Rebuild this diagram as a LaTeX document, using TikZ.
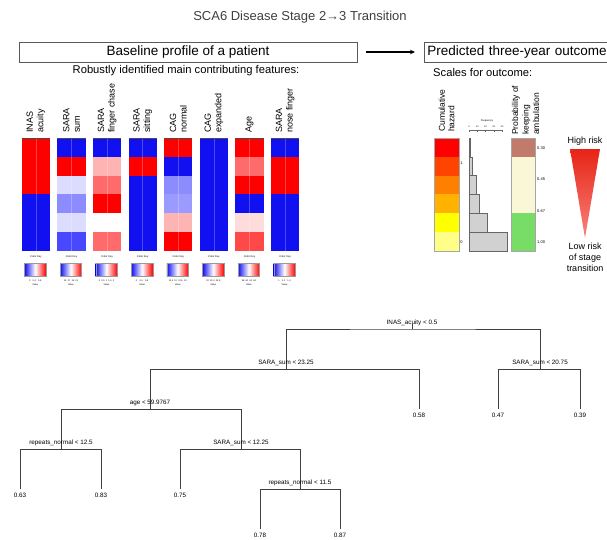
\documentclass[tikz,border=0pt]{standalone}
\usepackage{fontspec}
\setmainfont{Liberation Sans}
\usetikzlibrary{arrows.meta}

\definecolor{hmRed}{RGB}{255,0,0}
\definecolor{hmBlue}{RGB}{16,16,240}
\definecolor{hmBlueA}{RGB}{220,220,255}
\definecolor{hmBlueB}{RGB}{140,140,255}
\definecolor{hmBlueC}{RGB}{154,154,255}
\definecolor{hmBlueD}{RGB}{72,72,255}
\definecolor{hmRedA}{RGB}{255,220,220}
\definecolor{hmRedB}{RGB}{255,180,180}
\definecolor{hmRedC}{RGB}{255,106,106}
\definecolor{hmRedD}{RGB}{255,72,72}
\definecolor{hzA}{RGB}{255,0,0}
\definecolor{hzB}{RGB}{255,68,0}
\definecolor{hzC}{RGB}{255,127,0}
\definecolor{hzD}{RGB}{255,178,0}
\definecolor{hzE}{RGB}{255,255,0}
\definecolor{hzF}{RGB}{255,255,136}
\definecolor{probTop}{RGB}{194,122,107}
\definecolor{probMid}{RGB}{250,247,214}
\definecolor{probLow}{RGB}{120,221,102}
\definecolor{riskHigh}{RGB}{230,36,22}
\definecolor{riskLow}{RGB}{250,130,122}

\tikzset{
  panel/.style={draw=black!65, line width=0.8pt, inner sep=0pt, minimum height=20pt,
    font=\fontsize{13.5}{15}\selectfont},
  feat/.style={rotate=90, anchor=west, align=left, inner sep=0pt,
    font=\fontsize{9}{10.5}\selectfont},
  keytitle/.style={inner sep=0pt, font=\fontsize{2.6}{3}\selectfont},
  keytick/.style={inner sep=0pt, font=\fontsize{2.3}{3}\selectfont},
  axtick/.style={inner sep=0pt, font=\fontsize{4}{5}\selectfont},
  split/.style={anchor=south, inner sep=0pt, yshift=3pt, font=\fontsize{6.3}{7}\selectfont},
  leaf/.style={anchor=north, inner sep=0pt, yshift=-4pt, font=\fontsize{6.3}{7}\selectfont},
  branch/.style={draw=black!75, line width=0.9pt},
  flow/.style={-{Stealth[length=5pt,width=4.5pt]}, line width=1.2pt},
}

\begin{document}
\begin{tikzpicture}[x=1pt, y=-1pt]
\useasboundingbox (0,0) rectangle (607,539);

% title and the two header boxes
\node[text=black!75, inner sep=0pt, font=\fontsize{13}{15}\selectfont] (title) at (300,17)
  {SCA6 Disease Stage 2→3 Transition};
\node[panel, minimum width=338pt] (base) at (188,52) {Baseline profile of a patient};
\node[panel, anchor=west, text width=190pt, inner xsep=3pt, align=left] (pred) at (424,52)
  {Predicted three-year outcome};
\draw[flow] ([xshift=9pt]base.east) -- ([xshift=-9pt]pred.west);
\node[inner sep=0pt, font=\fontsize{11.2}{13}\selectfont] (robust) at (186,71)
  {Robustly identified main contributing features:};
\node[inner sep=0pt, anchor=west, font=\fontsize{11.2}{13}\selectfont] (scales) at (433,72)
  {Scales for outcome:};

% heatmap columns of the features
\foreach \col [count=\i from 0] in {
  {hmRed,hmRed,hmRed,hmBlue,hmBlue,hmBlue},
  {hmBlue,hmRed,hmBlueA,hmBlueB,hmBlueA,hmBlueD},
  {hmBlue,hmRedB,hmRedC,hmRed,white,hmRedC},
  {hmBlue,hmRed,hmBlue,hmBlue,hmBlue,hmBlue},
  {hmRed,hmBlue,hmBlueB,hmBlueC,hmRedB,hmRed},
  {hmBlue,hmBlue,hmBlue,hmBlue,hmBlue,hmBlue},
  {hmRed,hmRedC,hmRed,hmBlue,hmRedA,hmRedD},
  {hmBlue,hmRed,hmRed,hmBlue,hmBlue,hmBlue}} {
  \foreach \c [count=\j from 0] in \col
    \fill[\c] ({21.7+35.6*\i},{138+18.8*\j}) rectangle ++(28.3,18.8);
  \draw[white, opacity=0.25, line width=0.4pt] ({35.85+35.6*\i},138) -- ++(0,112.8);
  \draw[black!70, line width=0.8pt] ({21.7+35.6*\i},138) -- ++(28.3,0);
}
\node[feat] (f1) at (35.9,133) {INAS\\acuity};
\node[feat] (f2) at (71.5,133) {SARA\\sum};
\node[feat] (f3) at (107.1,133) {SARA\\finger chase};
\node[feat] (f4) at (142.7,133) {SARA\\sitting};
\node[feat] (f5) at (178.3,133) {CAG\\normal};
\node[feat] (f6) at (213.9,133) {CAG\\expanded};
\node[feat] (f7) at (249.5,133) {Age};
\node[feat] (f8) at (285.1,133) {SARA\\nose finger};

% color keys
\foreach \tk [count=\i from 0] in {
  {0\quad 0.4\quad 0.8}, {15\ \ 17\ \ 19\ \ 21}, {0\ \ 0.5\ \ 1\ \ 1.5\ \ 2},
  {0\quad 0.4\quad 0.8}, {11.5\ \ 12\ \ 12.5\ \ 13}, {22\ \ 22.4\ \ 22.8},
  {58\ \ 60\ \ 62\ \ 64}, {1\quad 1.2\quad 1.4}} {
  \node[keytitle] (kt\i) at ({35.9+35.6*\i},257) {Color Key};
  \shade[left color=hmBlue, right color=hmRed, middle color=white]
    ({24.5+35.6*\i},263) rectangle ++(21.5,13);
  \draw[black!40, line width=0.3pt] ({24.5+35.6*\i},263) rectangle ++(21.5,13);
  \node[keytick] (kv\i) at ({35.3+35.6*\i},280.5) {\tk};
  \node[keytick] (kn\i) at ({35.3+35.6*\i},285) {Value};
}

% outcome scales
\foreach \c [count=\j from 0] in {hzA,hzB,hzC,hzD,hzE,hzF}
  \fill[\c] (434,{138+18.8*\j}) rectangle ++(25,18.8);
\draw[black!35, line width=0.5pt] (434,138) rectangle (459,250.8);
\node[feat, font=\fontsize{8.5}{9.5}\selectfont] (hz) at (446.5,132) {Cumulative\\hazard};
\node[axtick] (hz1) at (461.5,163) {1};
\node[axtick] (hz0) at (461.5,242) {0};

\foreach \w [count=\j from 0] in {1.3,3.7,7,10,18,38}
  \draw[fill=black!18, draw=black!60, line width=0.5pt] (469,{138+18.8*\j}) rectangle ++(\w,18.8);
\node[keytitle] (freq) at (487,121) {Frequency};
\draw[black!60, line width=0.3pt] (469,130) -- (502,130);
\foreach \t [count=\k from 0] in {0,10,20,30,40} {
  \draw[black!60, line width=0.3pt] ({469+8.25*\k},130) -- ++(0,1.5);
  \node[keytick] (ft\k) at ({469+8.25*\k},126.5) {\t};
}

\fill[probTop] (511,138) rectangle (535,156.8);
\fill[probMid] (511,156.8) rectangle (535,213.2);
\fill[probLow] (511,213.2) rectangle (535,250.8);
\draw[black!35, line width=0.5pt] (511,138) rectangle (535,250.8);
\node[feat, font=\fontsize{8.5}{10.5}\selectfont] (prob) at (525.5,135)
  {Probability of\\keeping\\ambulation};
\node[axtick, anchor=west] (p30) at (537,148) {0.30};
\node[axtick, anchor=west] (p45) at (537,179) {0.45};
\node[axtick, anchor=west] (p67) at (537,211) {0.67};
\node[axtick, anchor=west] (p100) at (537,242) {1.00};

% risk wedge
\shade[top color=riskHigh, bottom color=riskLow] (570,149) -- (600,149) -- (585,238) -- cycle;
\node[inner sep=0pt, font=\fontsize{9}{11}\selectfont] (high) at (585,141) {High risk};
\node[inner sep=0pt, align=center, font=\fontsize{9}{11}\selectfont] (low) at (585,257)
  {Low risk\\of stage\\transition};

% regression tree
\coordinate (s1) at (412,329);
\coordinate (s2) at (286,369);
\coordinate (s3) at (540,369);
\coordinate (s4) at (150,409);
\coordinate (s5) at (61,449);
\coordinate (s6) at (241,449);
\coordinate (s7) at (300,489);
\coordinate (v58) at (419,409);
\coordinate (v47) at (498,409);
\coordinate (v39) at (580,409);
\coordinate (v63) at (20,489);
\coordinate (v83) at (101,489);
\coordinate (v75) at (180,489);
\coordinate (v78) at (260,529);
\coordinate (v87) at (340,529);
\draw[branch] (s1) -- ++(0,-5);
\foreach \p/\a/\b in {s1/s2/s3, s2/s4/v58, s3/v47/v39, s4/s5/s6, s5/v63/v83, s6/v75/s7, s7/v78/v87}
  \draw[branch] (\a) |- (\p) -| (\b);
\node[split] (n1) at (s1) {INAS\_acuity < 0.5};
\node[split] (n2) at (s2) {SARA\_sum < 23.25};
\node[split] (n3) at (s3) {SARA\_sum < 20.75};
\node[split] (n4) at (s4) {age < 59.9767};
\node[split] (n5) at (s5) {repeats\_normal < 12.5};
\node[split] (n6) at (s6) {SARA\_sum < 12.25};
\node[split] (n7) at (s7) {repeats\_normal < 11.5};
\node[leaf] (l58) at (v58) {0.58};
\node[leaf] (l47) at (v47) {0.47};
\node[leaf] (l39) at (v39) {0.39};
\node[leaf] (l63) at (v63) {0.63};
\node[leaf] (l83) at (v83) {0.83};
\node[leaf] (l75) at (v75) {0.75};
\node[leaf] (l78) at (v78) {0.78};
\node[leaf] (l87) at (v87) {0.87};
\end{tikzpicture}
\end{document}
